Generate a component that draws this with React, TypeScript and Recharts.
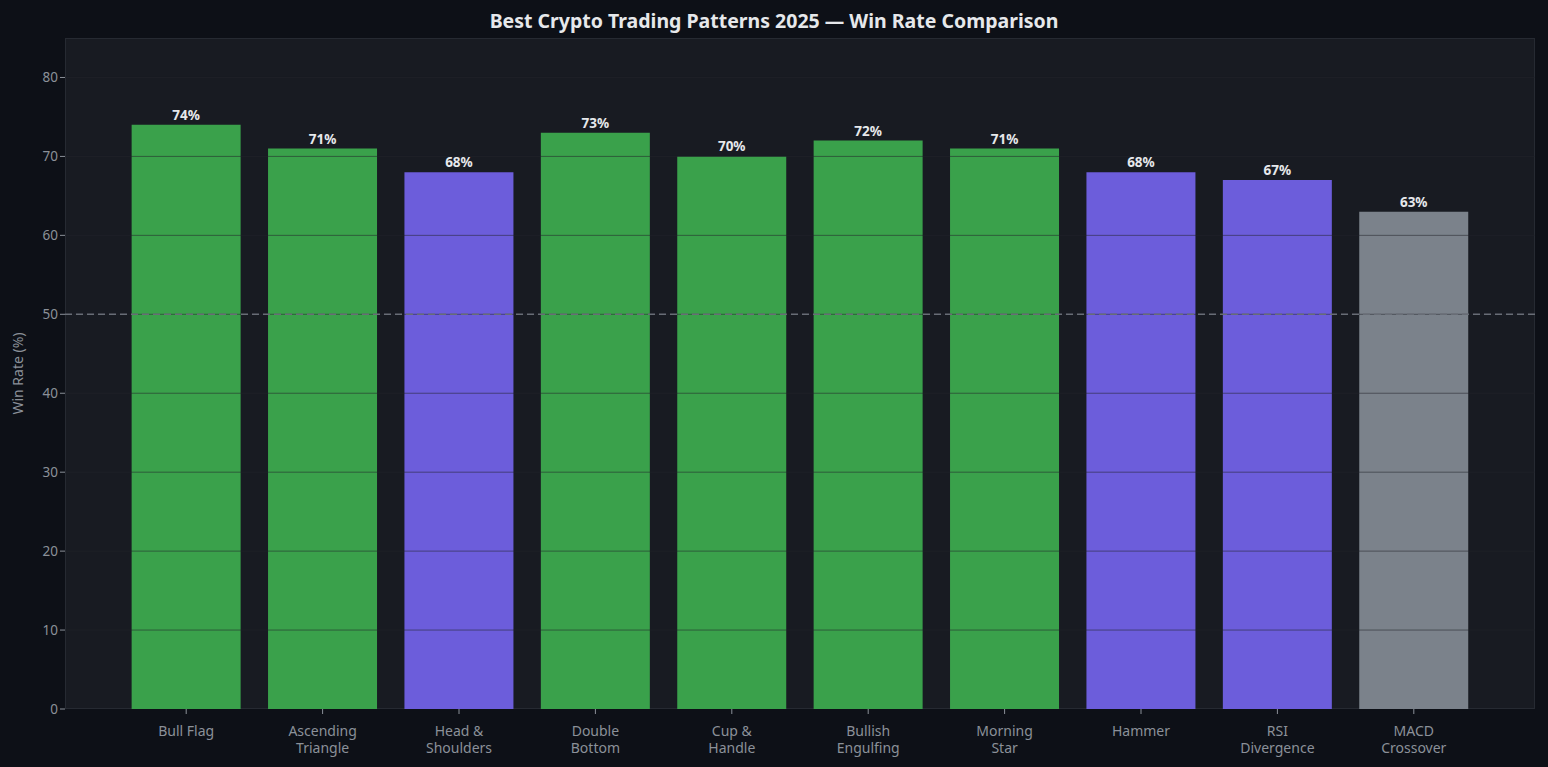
import * as React from 'react';
import { Bar, BarChart, Cell, LabelList, ReferenceLine, XAxis, YAxis } from 'recharts';

const patterns = [
  'Bull Flag',
  'Ascending\nTriangle',
  'Head &\nShoulders',
  'Double\nBottom',
  'Cup &\nHandle',
  'Bullish\nEngulfing',
  'Morning\nStar',
  'Hammer',
  'RSI\nDivergence',
  'MACD\nCrossover',
];
const winRates = [74, 71, 68, 73, 70, 72, 71, 68, 67, 63];
const groups = ['bullish', 'bullish', 'reversal', 'bullish', 'bullish', 'bullish', 'bullish', 'reversal', 'reversal', 'lagging'];
const yTicks = [0, 10, 20, 30, 40, 50, 60, 70, 80];

const groupColor: Record<string, string> = {
  bullish: '#3aa14b',
  reversal: '#6c5ddb',
  lagging: '#7b828b',
};

const data = patterns.map((name, i) => ({ name, rate: winRates[i], group: groups[i] }));

const FONT = '"Noto Sans", "DejaVu Sans", sans-serif';
const TICK = '#8b9099';

function CategoryTick(props: any) {
  const { x, y, payload } = props;
  const lines = String(payload.value).split('\n');
  return (
    <g transform={`translate(${x},${y})`}>
      {lines.map((l, i) => (
        <text key={i} x={0} y={20 + i * 17} textAnchor='middle' fill={TICK} fontSize={14} fontFamily={FONT}>
          {l}
        </text>
      ))}
    </g>
  );
}

export default function App() {
  return (
    <div style={{ position: 'fixed', left: 0, top: 0, width: 1548, height: 767, background: '#0d1017', fontFamily: FONT }}>
      <div
        style={{
          position: 'absolute',
          left: 65,
          top: 38,
          width: 1470,
          height: 671,
          background: '#181b22',
          border: '1px solid #262a32',
          boxSizing: 'border-box',
        }}
      />
      <div
        style={{
          position: 'absolute',
          left: 0,
          top: 8,
          width: 1548,
          textAlign: 'center',
          color: '#e6e8eb',
          fontSize: 19.5,
          fontWeight: 700,
          lineHeight: '26px',
        }}
      >
        Best Crypto Trading Patterns 2025 — Win Rate Comparison
      </div>
      <div style={{ position: 'absolute', left: 0, top: 0 }}>
        <BarChart
          width={1548}
          height={767}
          data={data}
          margin={{ top: 38, right: 13, bottom: 0, left: 25 }}
          barCategoryGap='10%'
        >
          <XAxis
            dataKey='name'
            interval={0}
            padding={{ left: 53, right: 53 }}
            height={58}
            axisLine={false}
            tickLine={{ stroke: TICK }}
            tickSize={5}
            tick={<CategoryTick />}
          />
          <YAxis
            domain={[0, 85]}
            ticks={yTicks}
            width={40}
            axisLine={false}
            tickLine={{ stroke: TICK }}
            tickSize={5}
            tick={{ fill: TICK, fontSize: 13.5, fontFamily: FONT }}
            label={{
              value: 'Win Rate (%)',
              angle: -90,
              position: 'insideLeft',
              offset: -7,
              fill: TICK,
              fontSize: 14,
              fontFamily: FONT,
              style: { textAnchor: 'middle' },
            }}
          />
          <Bar dataKey='rate' isAnimationActive={false}>
            {data.map((d, i) => (
              <Cell key={i} fill={groupColor[d.group]} />
            ))}
            <LabelList
              dataKey='rate'
              position='top'
              offset={5}
              formatter={(v: any) => `${v}%`}
              fill='#e6e8eb'
              fontSize={13.5}
              fontWeight={700}
              fontFamily={FONT}
            />
          </Bar>
          {yTicks.slice(1).map((t) => (
            <ReferenceLine key={t} y={t} stroke='#22252c' strokeOpacity={0.55} strokeWidth={1} />
          ))}
          <ReferenceLine y={50} stroke='#686d76' strokeDasharray='7 4' strokeWidth={1.4} />
        </BarChart>
      </div>
    </div>
  );
}
